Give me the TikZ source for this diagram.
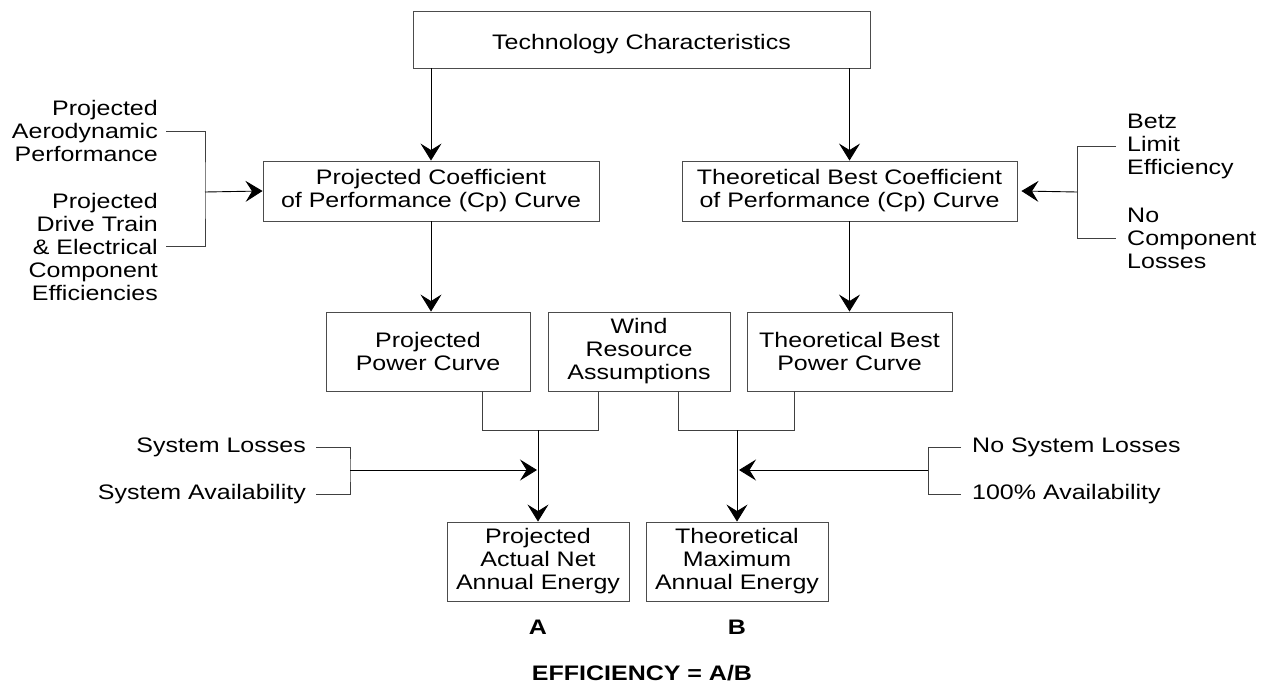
\documentclass[tikz,border=0pt]{standalone}
\usepackage{fontspec}
\setmainfont{Liberation Sans}[FakeStretch=1.19]
\usetikzlibrary{arrows.meta,calc}
\newcommand\dfont{\fontsize{21}{23}\selectfont}
\begin{document}
\begin{tikzpicture}[x=1pt,y=-1pt,
  box/.style={draw=black!70, line width=0.9pt, inner sep=0pt, align=center, font=\dfont},
  lbl/.style={inner sep=0pt, font=\dfont},
  line/.style={draw=black!75, line width=0.9pt},
  arr/.style={draw=black, line width=0.9pt, -{Stealth[length=17pt,width=21pt,inset=6.5pt]}}]
\useasboundingbox (0,0) rectangle (1264,685);
% boxes
\node[box, minimum width=457pt, minimum height=57pt, text height=22pt, text depth=2pt] (tech) at (641.5,39.5) {Technology Characteristics};
\node[box, minimum width=336pt, minimum height=60pt] (pcp) at (431,191) {Projected Coefficient\\of Performance (Cp) Curve};
\node[box, minimum width=335pt, minimum height=60pt] (tcp) at (849.5,191) {Theoretical Best Coefficient\\of Performance (Cp) Curve};
\node[box, minimum width=204pt, minimum height=79pt] (ppc) at (428,351.5) {Projected\\Power Curve};
\node[box, minimum width=182pt, minimum height=79pt] (wind) at (639,351.5) {Wind\\Resource\\Assumptions};
\node[box, minimum width=205pt, minimum height=79pt] (tbpc) at (849.5,351.5) {Theoretical Best\\Power Curve};
\node[box, minimum width=182pt, minimum height=79pt] (pan) at (538,561.5) {Projected\\Actual Net\\Annual Energy};
\node[box, minimum width=182pt, minimum height=79pt] (tma) at (737,561.5) {Theoretical\\Maximum\\Annual Energy};
% side labels
\node[lbl, anchor=east, align=right] (aero) at (158,131) {Projected\\Aerodynamic\\Performance};
\node[lbl, anchor=east, align=right] (drive) at (158,246.5) {Projected\\Drive Train\\\& Electrical\\Component\\Efficiencies};
\node[lbl, anchor=west, align=left] (betz) at (1127,146) {Betz\\Limit\\Efficiency};
\node[lbl, anchor=west, align=left] (nocomp) at (1127,238.5) {No\\Component\\Losses};
\node[lbl, anchor=east] (sl) at (306,447) {System Losses};
\node[lbl, anchor=east] (sa) at (306,494) {System Availability};
\node[lbl, anchor=west] (nsl) at (972,447) {No System Losses};
\node[lbl, anchor=west] (av) at (972,494) {100\% Availability};
\node[lbl, font=\dfont\bfseries] (A) at (538,627) {A};
\node[lbl, font=\dfont\bfseries] (B) at (737,627) {B};
\node[lbl, font=\dfont\bfseries] (eff) at (642,673) {EFFICIENCY = A/B};
% coordinates
\coordinate (jA) at (538,430);
\coordinate (jB) at (737,430);
\coordinate (bl) at (205,192);
\coordinate (br) at (1077,192);
\coordinate (bll) at (350,470);
\coordinate (blr) at (928,470);
% connectors
\draw[arr] (tech.south -| pcp.north) -- (pcp.north);
\draw[arr] (tech.south -| tcp.north) -- (tcp.north);
\draw[arr] (pcp.south) -- (pcp.south |- ppc.north);
\draw[arr] (tcp.south) -- (tcp.south |- tbpc.north);
\draw[line] ([xshift=54pt]ppc.south) |- ([xshift=-41pt]wind.south |- jA) -- ([xshift=-41pt]wind.south);
\draw[line] ([xshift=39pt]wind.south) |- ([xshift=-55pt]tbpc.south |- jB) -- ([xshift=-55pt]tbpc.south);
\draw[arr] (jA) -- (pan.north);
\draw[arr] (jB) -- (tma.north);
\draw[line] ([xshift=8pt]aero.east) -| (bl) |- ([xshift=8pt]drive.east);
\draw[arr] (bl) -- (pcp.west);
\draw[line] ([xshift=-11pt]betz.west) -| (br) |- ([xshift=-11pt]nocomp.west);
\draw[arr] (br) -- ([xshift=4pt]tcp.east);
\draw[line] ([xshift=10pt]sl.east) -| (bll) |- ([xshift=10pt]sa.east);
\draw[arr] (bll) -- ([xshift=-1pt]bll -| jA);
\draw[line] ([xshift=-11pt]nsl.west) -| (blr) |- ([xshift=-11pt]av.west);
\draw[arr] (blr) -- ([xshift=2pt]blr -| jB);
\end{tikzpicture}
\end{document}
